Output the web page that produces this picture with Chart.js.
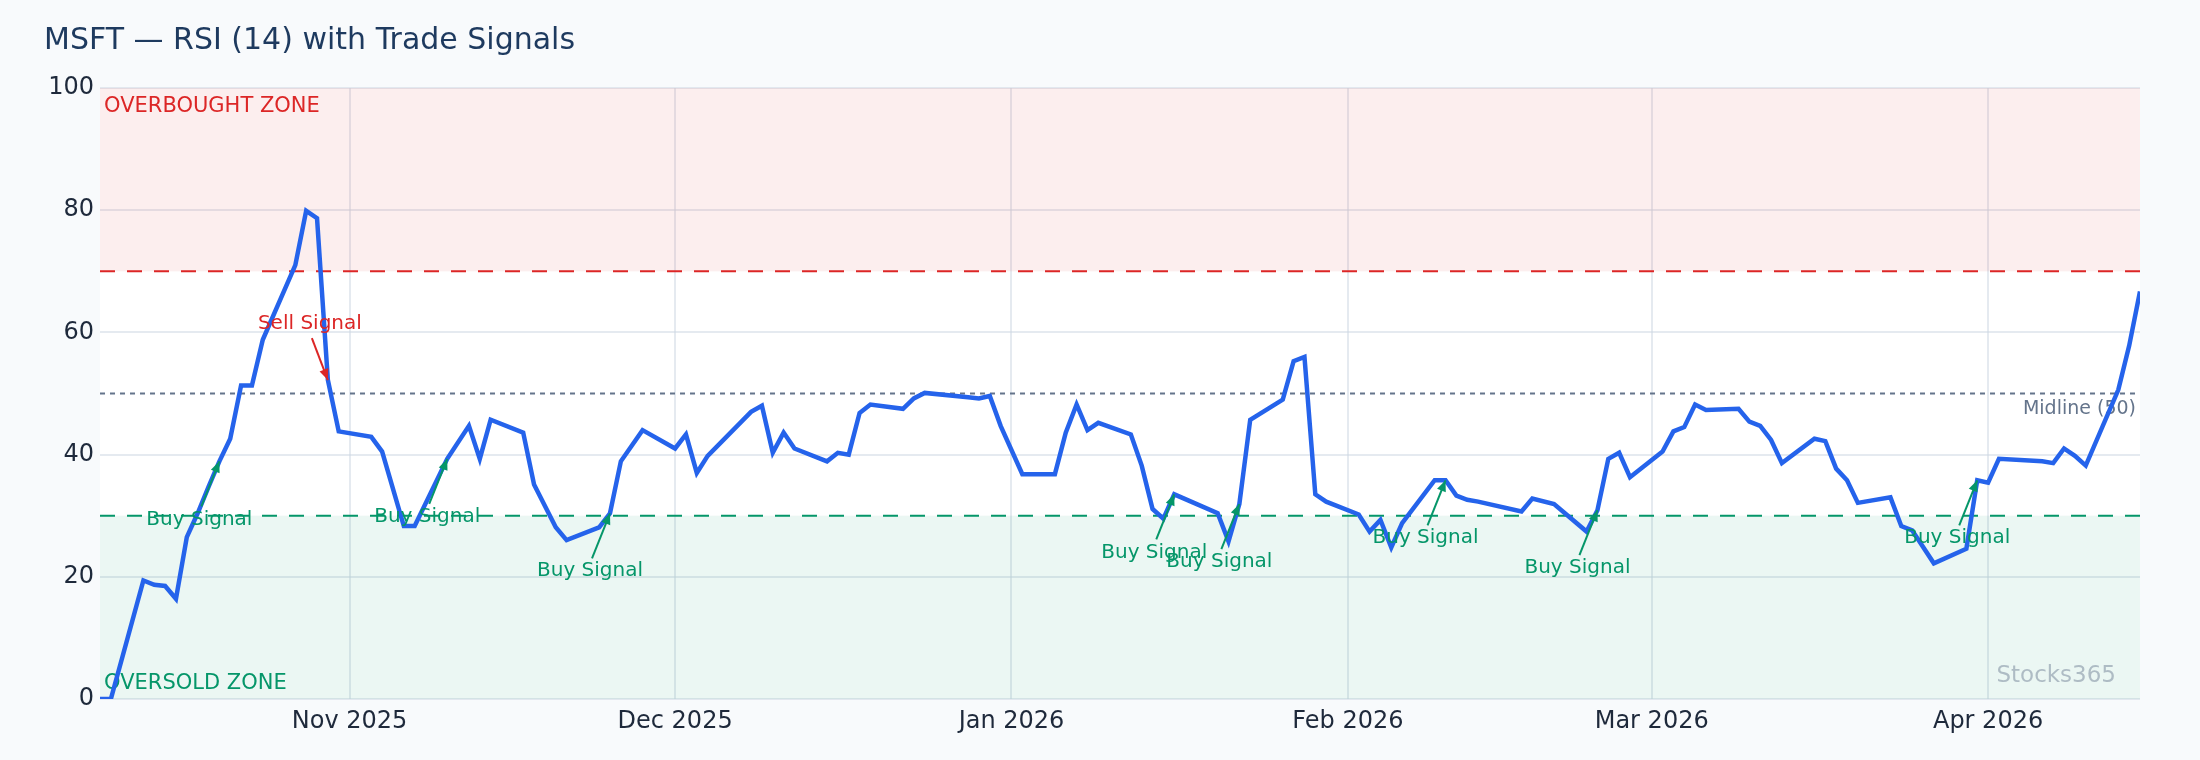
<!DOCTYPE html>
<html><head><meta charset="utf-8">
<script src="https://cdn.jsdelivr.net/npm/chart.js@4"></script>
<style>html,body{margin:0;padding:0;background:#f8fafc}#wrap{width:2200px;height:760px}</style>
</head><body><div id="wrap"><canvas id="c" width="2200" height="760"></canvas></div>
<script>
const startDate = [2025, 9, 9]; // Oct 9 2025
const days = [0,1,4,5,6,7,8,9,10,11,12,13,14,15,18,19,20,21,22,25,26,28,29,32,34,35,36,39,40,42,43,46,47,48,50,53,54,55,56,60,61,62,63,64,67,68,69,70,71,74,75,76,80,81,82,83,85,88,89,90,91,92,95,96,97,98,99,103,104,105,106,109,110,111,112,113,116,117,118,119,120,123,124,125,126,127,131,132,134,137,138,139,140,141,144,145,146,147,148,151,152,153,154,155,158,159,160,161,162,165,166,167,169,172,173,174,175,179,180,181,182,183,186,187,188];
const rsi = [0,0,19.4,18.7,18.5,16.4,26.5,30.4,34.7,38.9,42.6,51.3,51.3,58.8,71,79.9,78.7,52.2,43.8,42.9,40.5,28.3,28.3,39.3,44.7,39.3,45.7,43.6,35.1,28.1,26,28.1,30.4,38.9,44,41,43.3,37,39.8,47,48,40.3,43.6,41,38.9,40.3,40,46.8,48.2,47.5,49.2,50.1,49.4,49.2,49.6,44.7,36.8,36.8,43.6,48.2,44,45.2,43.3,38.2,31.1,29.5,33.5,30.4,25.8,31.9,45.7,49,55.3,56,33.5,32.3,30.2,27.4,29.3,24.8,28.8,35.8,35.8,33.3,32.6,32.3,30.7,32.8,31.9,27.4,30.9,39.3,40.3,36.3,40.5,43.8,44.5,48.2,47.3,47.5,45.4,44.7,42.4,38.6,42.6,42.2,37.7,35.8,32.1,33,28.3,27.6,22.2,24.6,35.8,35.4,39.3,38.9,38.6,41,39.8,38.2,50.6,57.8,66.7];
const monthTicks = [23,53,84,115,143,174];
const monthLabels = ["Nov 2025","Dec 2025","Jan 2026","Feb 2026","Mar 2026","Apr 2026"];
const sellDays = [21];
const buyDays = [11,32,47,99,105,124,138,173];
const overbought = 70, oversold = 30, midline = 50;

const pts = days.map((d,i)=>({x:d,y:rsi[i]}));
const valAt = d => rsi[days.indexOf(d)];

const deco = {
  id:'deco',
  beforeDatasetsDraw(ch){
    const {ctx, chartArea:a, scales:{x,y}} = ch;
    ctx.save();
    ctx.fillStyle='rgba(220,38,38,0.08)';
    ctx.fillRect(a.left,y.getPixelForValue(100),a.right-a.left,y.getPixelForValue(overbought)-y.getPixelForValue(100));
    ctx.fillStyle='rgba(5,150,105,0.08)';
    ctx.fillRect(a.left,y.getPixelForValue(oversold),a.right-a.left,y.getPixelForValue(0)-y.getPixelForValue(oversold));
    const hl=(v,c,dash,w)=>{ctx.beginPath();ctx.setLineDash(dash);ctx.strokeStyle=c;ctx.lineWidth=w;const p=y.getPixelForValue(v);ctx.moveTo(a.left,p);ctx.lineTo(a.right,p);ctx.stroke();};
    hl(overbought,'#dc2626',[15,12],2);
    hl(oversold,'#059669',[15,12],2);
    hl(midline,'#64748b',[5,5],2);
    ctx.setLineDash([]);
    ctx.font='21px "DejaVu Sans"';
    ctx.textBaseline='middle';
    ctx.fillStyle='#dc2626';ctx.textAlign='left';
    ctx.fillText('OVERBOUGHT ZONE',a.left+4,y.getPixelForValue(97));
    ctx.fillStyle='#059669';
    ctx.fillText('OVERSOLD ZONE',a.left+4,y.getPixelForValue(2.6));
    ctx.fillStyle='#64748b';ctx.textAlign='right';ctx.font='19px "DejaVu Sans"';
    ctx.fillText('Midline (50)',a.right-4,y.getPixelForValue(47.5));
    ctx.fillStyle='rgba(100,116,139,0.45)';ctx.font='23px "DejaVu Sans"';
    ctx.fillText('Stocks365',a.right-24,y.getPixelForValue(3.8));
    ctx.restore();
  },
  afterDatasetsDraw(ch){
    const {ctx, scales:{x,y}} = ch;
    ctx.save();
    ctx.font='20px "DejaVu Sans"';ctx.textAlign='center';ctx.textBaseline='middle';
    const arrow=(x0,y0,x1,y1,c)=>{
      ctx.strokeStyle=c;ctx.fillStyle=c;ctx.lineWidth=2;
      ctx.beginPath();ctx.moveTo(x0,y0);ctx.lineTo(x1,y1);ctx.stroke();
      const ang=Math.atan2(y1-y0,x1-x0),L=12;
      ctx.beginPath();ctx.moveTo(x1,y1);
      ctx.lineTo(x1-L*Math.cos(ang-0.4),y1-L*Math.sin(ang-0.4));
      ctx.lineTo(x1-L*Math.cos(ang+0.4),y1-L*Math.sin(ang+0.4));ctx.closePath();ctx.fill();
    };
    sellDays.forEach(d=>{
      const px=x.getPixelForValue(d),py=y.getPixelForValue(valAt(d));
      const tx=px-18,ty=py-56;
      ctx.fillStyle='#dc2626';ctx.fillText('Sell Signal',tx,ty);
      arrow(tx+2,ty+14,px,py,'#dc2626');
    });
    buyDays.forEach(d=>{
      const px=x.getPixelForValue(d),py=y.getPixelForValue(valAt(d));
      const tx=px-20,ty=py+58;
      ctx.fillStyle='#059669';ctx.fillText('Buy Signal',tx,ty);
      arrow(tx+2,ty-13,px,py,'#059669');
    });
    ctx.restore();
  },
  afterDraw(ch){
    const ctx=ch.ctx;ctx.save();
    ctx.fillStyle='#1e3a5f';ctx.font='30px "DejaVu Sans"';ctx.textBaseline='middle';ctx.textAlign='left';
    ctx.fillText('MSFT — RSI (14) with Trade Signals',44,41);
    ctx.restore();
  }
};
const bg={id:'bg',beforeDraw(ch){const {ctx,chartArea:a}=ch;ctx.save();ctx.fillStyle='#f8fafc';ctx.fillRect(0,0,ch.width,ch.height);ctx.fillStyle='#ffffff';ctx.fillRect(a.left,a.top,a.right-a.left,a.bottom-a.top);ctx.restore();}};

new Chart(document.getElementById('c'),{
  type:'line',
  data:{datasets:[{data:pts,borderColor:'#2563eb',borderWidth:4.5,pointRadius:0,tension:0,fill:false}]},
  options:{
    responsive:false,animation:false,
    layout:{padding:{top:88,right:60,left:0,bottom:0}},
    plugins:{legend:{display:false},tooltip:{enabled:false}},
    scales:{
      x:{type:'linear',min:0,max:188,
        afterBuildTicks(s){s.ticks=monthTicks.map(v=>({value:v}));},
        afterFit(s){s.height=61;},
        ticks:{autoSkip:false,maxRotation:0,color:'#1e293b',font:{size:24,family:'DejaVu Sans'},padding:8,
          callback:(v)=>monthLabels[monthTicks.indexOf(v)]},
        grid:{color:'rgba(203,213,225,0.5)',lineWidth:2,drawTicks:false},border:{display:false}},
      y:{min:0,max:100,
        afterFit(s){s.width=100;},
        ticks:{stepSize:20,color:'#1e293b',font:{size:24,family:'DejaVu Sans'},padding:6},
        grid:{color:'rgba(203,213,225,0.5)',lineWidth:2,drawTicks:false},border:{display:false}}
    }
  },
  plugins:[bg,deco]
});
</script></body></html>
